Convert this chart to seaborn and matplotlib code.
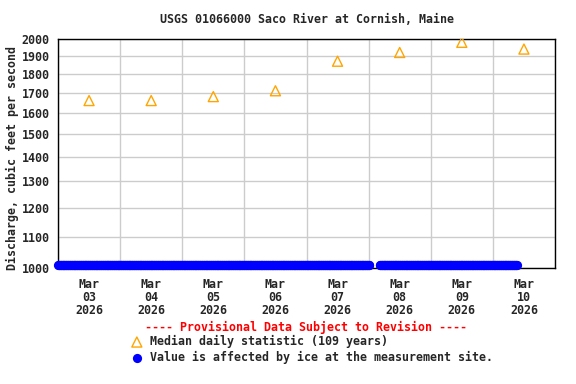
import numpy as np
import pandas as pd
import matplotlib
matplotlib.use("Agg")
import matplotlib.pyplot as plt
import matplotlib.dates as mdates
from matplotlib.ticker import FixedLocator, NullLocator, FixedFormatter
import seaborn as sns

# median daily statistic (plotted at noon of each day)
median_days = ["2026-03-03", "2026-03-04", "2026-03-05", "2026-03-06",
               "2026-03-07", "2026-03-08", "2026-03-09", "2026-03-10"]
median_cfs = [1660, 1660, 1680, 1710, 1870, 1920, 1980, 1940]

# ice-affected records (15-minute values, drawn just above the axis floor)
ice_segments = [("2026-03-03 00:00", "2026-03-08 00:15"),
                ("2026-03-08 04:15", "2026-03-10 09:15")]
ice_floor_cfs = 1010

y_ticks = [1000, 1100, 1200, 1300, 1400, 1500, 1600, 1700, 1800, 1900, 2000]
x_start, x_end = "2026-03-03", "2026-03-11"

median_df = pd.DataFrame({
    "time": pd.to_datetime(median_days) + pd.Timedelta(hours=12),
    "cfs": median_cfs,
})
ice_times = pd.concat([pd.Series(pd.date_range(a, b, freq="15min")) for a, b in ice_segments])
ice_df = pd.DataFrame({"time": ice_times.values, "cfs": ice_floor_cfs})

sns.set_style("white")
plt.rcParams["font.family"] = ["DejaVu Sans Mono"]
plt.rcParams["font.weight"] = "bold"
fs = 8.4

fig = plt.figure(figsize=(5.76, 3.84), dpi=100)
ax = fig.add_axes([58 / 576, 1 - 268 / 384, 497 / 576, 229 / 384])

ax.set_yscale("log")
ax.set_ylim(1000, 2000)
ax.set_xlim(pd.Timestamp(x_start), pd.Timestamp(x_end))

sns.scatterplot(data=ice_df, x="time", y="cfs", ax=ax, marker="o", s=44,
                color="#0000FF", edgecolor="#0000FF", linewidth=0,
                clip_on=False, zorder=3, label="Value is affected by ice at the measurement site.")
sns.scatterplot(data=median_df, x="time", y="cfs", ax=ax, marker="^", s=52,
                facecolors="none", edgecolor="#FFA500", linewidth=1.0,
                zorder=4, label="Median daily statistic (109 years)")

ax.yaxis.set_major_locator(FixedLocator(y_ticks))
ax.yaxis.set_major_formatter(FixedFormatter([str(v) for v in y_ticks]))
ax.yaxis.set_minor_locator(NullLocator())

days = pd.date_range(x_start, x_end, freq="D")
ax.xaxis.set_major_locator(FixedLocator(mdates.date2num(days)))
ax.xaxis.set_major_formatter(FixedFormatter([""] * len(days)))
noons = days[:-1] + pd.Timedelta(hours=12)
ax.xaxis.set_minor_locator(FixedLocator(mdates.date2num(noons)))
ax.xaxis.set_minor_formatter(FixedFormatter([d.strftime("%b\n%d\n%Y") for d in days[:-1]]))

ax.grid(True, which="major", color="#CCCCCC", linewidth=1)
ax.tick_params(axis="both", which="both", length=0, labelsize=fs)
ax.tick_params(axis="x", which="minor", pad=7)
ax.tick_params(axis="y", pad=6)
for lab in ax.get_xticklabels(minor=True) + ax.get_yticklabels():
    lab.set_fontweight("bold")
    lab.set_linespacing(1.02)
for s in ax.spines.values():
    s.set_color("black")
    s.set_linewidth(1)

ax.set_xlabel("")
ax.set_ylabel("Discharge, cubic feet per second", fontsize=fs, fontweight="bold")
ax.yaxis.set_label_coords(-39 / 497, 0.48)
ax.set_title("USGS 01066000 Saco River at Cornish, Maine", fontsize=fs,
             fontweight="bold", pad=11.8)

handles, labels = ax.get_legend_handles_labels()
ax.get_legend().remove()
fig.text(306 / 576, 1 - 327 / 384, "---- Provisional Data Subject to Revision ----",
         color="#FF0000", fontsize=fs, fontweight="bold", ha="center", va="center")
fig.legend(handles[::-1], labels[::-1], loc="upper left",
           bbox_to_anchor=(131 / 576, 1 - 335 / 384), frameon=False,
           handlelength=1.0, handletextpad=0.6, labelspacing=0.25,
           borderpad=0, borderaxespad=0, prop={"weight": "bold", "size": fs})

fig.savefig("out.png", dpi=100)
